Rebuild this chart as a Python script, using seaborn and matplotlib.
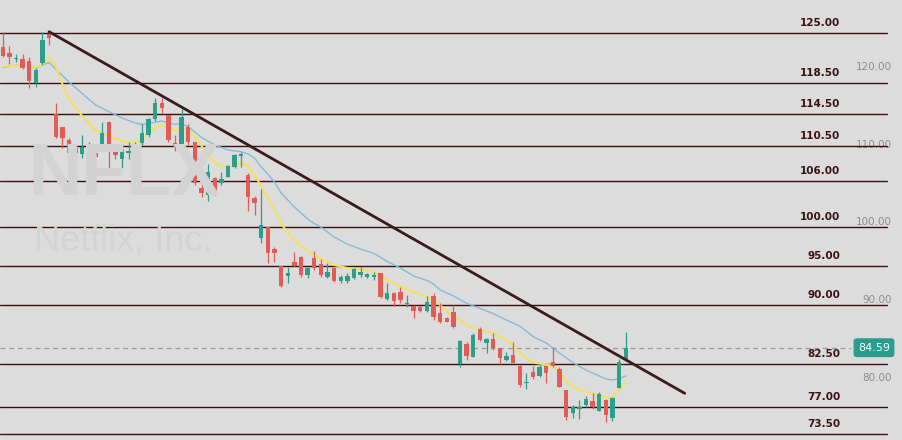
import matplotlib
matplotlib.use("Agg")
import matplotlib.pyplot as plt
import numpy as np
import pandas as pd
import seaborn as sns
from matplotlib.transforms import offset_copy

# ---------------- data ----------------
open_ = [123.18, 122.33, 121.56, 121.56, 121.35, 118.49, 121.05, 124.77, 114.51, 112.85,
         111.22, 110.23, 109.42, 110.03, 109.59, 110.49, 113.49, 110.15, 108.78, 109.59,
         109.42, 110.79, 111.86, 113.87, 115.92, 114.40, 110.79, 110.36, 112.92, 110.92,
         105.03, 104.17, 106.31, 105.67, 106.51, 107.72, 109.17, 106.73, 103.74, 98.69,
         100.03, 97.21, 95.03, 93.78, 95.62, 96.18, 93.91, 96.05, 95.32, 93.62,
         94.77, 93.18, 93.18, 93.49, 93.91, 93.62, 93.62, 94.21, 90.79, 91.64,
         91.77, 90.19, 89.94, 89.85, 89.33, 91.22, 89.08, 88.36, 89.21, 82.50,
         85.06, 83.44, 86.95, 85.23, 85.67, 84.51, 83.01, 83.65, 82.24, 80.03,
         81.51, 80.90, 82.18, 82.79, 81.82, 79.13, 76.18, 76.69, 77.24, 77.79,
         76.51, 77.88, 75.54, 79.38, 83.10]
high = [125.06, 123.31, 122.21, 122.21, 121.82, 120.41, 125.03, 125.10, 115.92, 112.88,
        111.51, 110.36, 111.86, 111.00, 110.15, 113.56, 113.65, 110.49, 110.15, 111.00,
        111.00, 113.23, 114.00, 116.56, 116.64, 114.42, 111.86, 115.19, 113.23, 111.00,
        106.22, 108.14, 106.44, 107.08, 108.01, 109.42, 109.72, 107.03, 104.04, 104.90,
        100.06, 97.46, 95.06, 94.97, 96.90, 96.35, 94.97, 97.05, 95.92, 95.49,
        94.81, 93.91, 94.21, 94.77, 94.97, 94.13, 94.33, 94.23, 92.85, 91.77,
        92.41, 91.35, 90.06, 89.94, 91.22, 91.64, 90.28, 88.49, 90.06, 85.58,
        85.36, 86.44, 87.21, 85.79, 86.44, 84.55, 84.08, 85.36, 82.37, 81.38,
        82.18, 82.37, 82.24, 84.64, 82.15, 79.17, 77.24, 77.88, 78.40, 78.74,
        78.95, 77.95, 78.23, 83.10, 86.64]
low = [121.86, 120.92, 121.18, 120.38, 117.85, 118.05, 120.83, 123.40, 111.44, 110.15,
       109.49, 108.95, 108.95, 109.72, 108.95, 110.36, 107.67, 108.78, 107.59, 108.78,
       108.95, 110.58, 111.64, 113.65, 114.64, 110.92, 109.81, 109.51, 110.58, 105.45,
       103.95, 103.44, 104.17, 105.45, 106.44, 107.59, 107.79, 102.15, 101.60, 97.97,
       95.49, 95.62, 92.41, 92.92, 94.97, 93.69, 93.49, 94.55, 93.69, 93.49,
       93.05, 92.92, 92.85, 93.46, 93.69, 93.49, 93.27, 90.92, 90.71, 89.94,
       90.28, 89.85, 88.36, 89.21, 89.21, 88.14, 87.79, 87.85, 87.08, 82.08,
       83.01, 83.40, 85.49, 83.95, 84.29, 82.50, 82.92, 82.59, 79.59, 79.26,
       80.58, 80.79, 80.03, 82.15, 79.55, 75.32, 75.54, 75.41, 76.95, 76.69,
       76.47, 75.10, 75.23, 79.36, 83.08]
close = [122.03, 121.90, 121.69, 120.41, 118.78, 120.19, 124.04, 124.33, 111.64, 111.44,
         109.51, 109.51, 110.36, 110.23, 109.00, 112.08, 110.36, 109.29, 110.03, 109.81,
         110.58, 112.08, 113.87, 115.92, 115.36, 111.22, 110.36, 114.21, 111.00, 105.67,
         104.38, 107.15, 104.46, 106.18, 107.88, 109.29, 109.42, 103.95, 103.18, 100.32,
         96.77, 96.77, 92.50, 94.21, 95.06, 93.91, 94.77, 94.87, 93.91, 94.33,
         93.18, 93.62, 93.78, 94.64, 94.33, 94.04, 93.91, 91.05, 91.56, 90.62,
         90.71, 90.28, 89.33, 89.33, 90.49, 88.53, 87.92, 87.92, 87.28, 85.49,
         83.53, 86.22, 85.58, 85.67, 84.51, 83.23, 83.53, 82.67, 79.81, 80.23,
         80.79, 82.15, 81.31, 82.24, 79.59, 75.67, 76.95, 76.95, 77.97, 76.95,
         78.65, 75.96, 78.10, 82.79, 84.59]

fast_ma_idx = [0, 2, 4, 5, 6, 7, 8, 9, 10, 12, 14, 16, 18, 19, 20, 21, 22, 23, 24, 25,
               26, 27, 28, 29, 30, 31, 32, 33, 34, 35, 36, 37, 38, 39, 40, 41, 42, 43, 44, 45,
               46, 47, 48, 49, 50, 52, 54, 56, 57, 58, 60, 62, 64, 65, 66, 67, 68, 69, 70, 72,
               74, 75, 76, 77, 78, 79, 80, 82, 83, 84, 85, 86, 88, 90, 91, 92, 93, 94]
fast_ma = [120.64, 120.77, 120.51, 120.58, 120.83, 121.77, 120.71, 118.40, 116.47, 114.29,
           112.50, 111.64, 111.09, 110.83, 110.90, 111.35, 112.12, 112.82, 113.14, 112.88,
           112.37, 112.76, 112.50, 111.60, 110.45, 109.29, 108.27, 107.88, 107.76, 108.01,
           108.31, 107.88, 106.73, 105.32, 103.78, 102.24, 100.45, 99.42, 98.40, 97.63,
           96.99, 96.41, 95.96, 95.58, 95.19, 94.81, 94.62, 94.29, 93.91, 93.27,
           92.41, 91.73, 91.09, 90.71, 90.06, 89.29, 88.53, 88.14, 87.50, 86.86,
           86.47, 85.96, 85.58, 84.81, 83.91, 83.27, 82.67, 82.44, 82.24, 81.35,
           80.32, 79.62, 78.91, 78.46, 78.27, 78.21, 79.17, 80.19]

slow_ma_idx = [0, 2, 4, 5, 7, 8, 10, 12, 14, 16, 18, 20, 21, 22, 24, 26, 27, 28, 29, 30,
               32, 34, 36, 37, 38, 39, 40, 41, 42, 43, 44, 45, 46, 47, 48, 50, 52, 54, 56, 58,
               60, 62, 64, 65, 66, 68, 70, 72, 74, 76, 78, 80, 82, 83, 84, 86, 88, 90, 91, 92,
               93, 94]
slow_ma = [120.49, 120.83, 120.51, 120.49, 121.15, 120.32, 118.65, 117.18, 115.71, 114.87,
           114.04, 113.40, 113.21, 113.33, 113.65, 113.21, 113.33, 112.88, 112.24, 111.54,
           110.58, 109.94, 109.72, 109.42, 108.91, 107.76, 106.86, 105.83, 104.42, 103.53,
           102.63, 101.86, 101.09, 100.51, 100.06, 98.78, 97.88, 97.24, 96.67, 95.64,
           94.81, 93.78, 93.21, 92.76, 91.99, 91.22, 90.28, 89.62, 88.97, 88.14,
           87.37, 86.03, 85.19, 84.55, 83.91, 82.69, 81.73, 80.96, 80.58, 80.45,
           80.64, 80.96]

levels = [125.0, 118.5, 114.5, 110.5, 106.0, 100.0, 95.0, 90.0, 82.5, 77.0, 73.5]
level_labels = ["125.00", "118.50", "114.50", "110.50", "106.00", "100.00",
                "95.00", "90.00", "82.50", "77.00", "73.50"]
axis_ticks = [120, 110, 100, 90, 80]
axis_tick_labels = ["120.00", "110.00", "100.00", "90.00", "80.00"]
last_price = 84.59
last_label = "84.59"
trend_idx = [7.0, 102.9]
trend_price = [125.1, 78.74]

# ---------------- style ----------------
BG = "#dcdcdc"
UP = "#2b9e8c"
DOWN = "#e25c57"
LEVEL_C = "#3a0e0e"

sns.set_theme(style="white", rc={"axes.facecolor": BG, "figure.facecolor": BG})
plt.rcParams["font.family"] = ["DejaVu Sans"]

fig = plt.figure(figsize=(9.02, 4.40), dpi=100)
ax = fig.add_axes([0, 0, 1, 1])
ax.set_facecolor(BG)
for s in ax.spines.values():
    s.set_visible(False)

# watermark
fig.text(28 / 902, 1 - 195 / 440, "NFLX", family="Liberation Sans", weight="bold",
         fontsize=53, color="#d3d3d3", ha="left", va="baseline", zorder=0)
fig.text(34 / 902, 1 - 250 / 440, "Netflix, Inc.", family="Liberation Sans",
         fontsize=26, color="#d3d3d3", ha="left", va="baseline", zorder=0)

df = pd.DataFrame({"i": np.arange(len(close)), "open": open_, "high": high,
                   "low": low, "close": close})
df["up"] = df["close"] >= df["open"]
colors = np.where(df["up"], UP, DOWN)

# horizontal levels
for lv in levels:
    ax.axhline(lv, xmin=0, xmax=887 / 902, color=LEVEL_C, lw=1.0, zorder=2)

# dashed last price line
ax.axhline(last_price, xmin=0, xmax=851 / 902, color="#9a9a9a", lw=0.9,
           ls=(0, (4, 3)), zorder=2)

# moving averages
sns.lineplot(x=slow_ma_idx, y=slow_ma, ax=ax, color="#84bbd8", lw=1.0, zorder=3)
sns.lineplot(x=fast_ma_idx, y=fast_ma, ax=ax, color="#f0e25e", lw=1.5, zorder=3)

# candles
ax.vlines(df["i"], df["low"], df["high"], colors=colors, lw=0.9, zorder=4)
body_bottom = np.minimum(df["open"], df["close"])
body_h = np.maximum(np.abs(df["close"] - df["open"]), 0.1)
ax.bar(df["i"], body_h, bottom=body_bottom, width=0.66, color=colors,
       edgecolor="none", zorder=5)

# trend line
ax.plot(trend_idx, trend_price, color="#3a1a1a", lw=2.0, solid_capstyle="round", zorder=6)

ax.set_xlim(-0.407, 135.68)
ax.set_ylim(72.756, 129.167)
ax.set_xticks([])

# price axis (right, inside)
ax.yaxis.tick_right()
ax.set_yticks(axis_ticks)
ax.set_yticklabels(axis_tick_labels)
ax.tick_params(axis="y", length=0, pad=-7.2, labelsize=7.5, labelcolor="#8c8c8c")
for lab in ax.get_yticklabels():
    lab.set_ha("right")
    lab.set_va("bottom")

# level labels
ytrans = ax.get_yaxis_transform()
ltrans = offset_copy(ytrans, fig=fig, x=0, y=7, units="dots")
for lv, lb in zip(levels, level_labels):
    ax.text(840 / 902, lv, lb, transform=ltrans, ha="right", va="baseline",
            fontsize=7.5, fontweight="bold", color="#3a1212", zorder=7)

# last price badge
ax.text(874 / 902, last_price, last_label, transform=ytrans, ha="center", va="center",
        fontsize=8, color="white", zorder=8,
        bbox=dict(boxstyle="round,pad=0.4,rounding_size=0.3", fc="#2a9d8f", ec="none"))

fig.savefig("out.png", dpi=100, facecolor=BG)
